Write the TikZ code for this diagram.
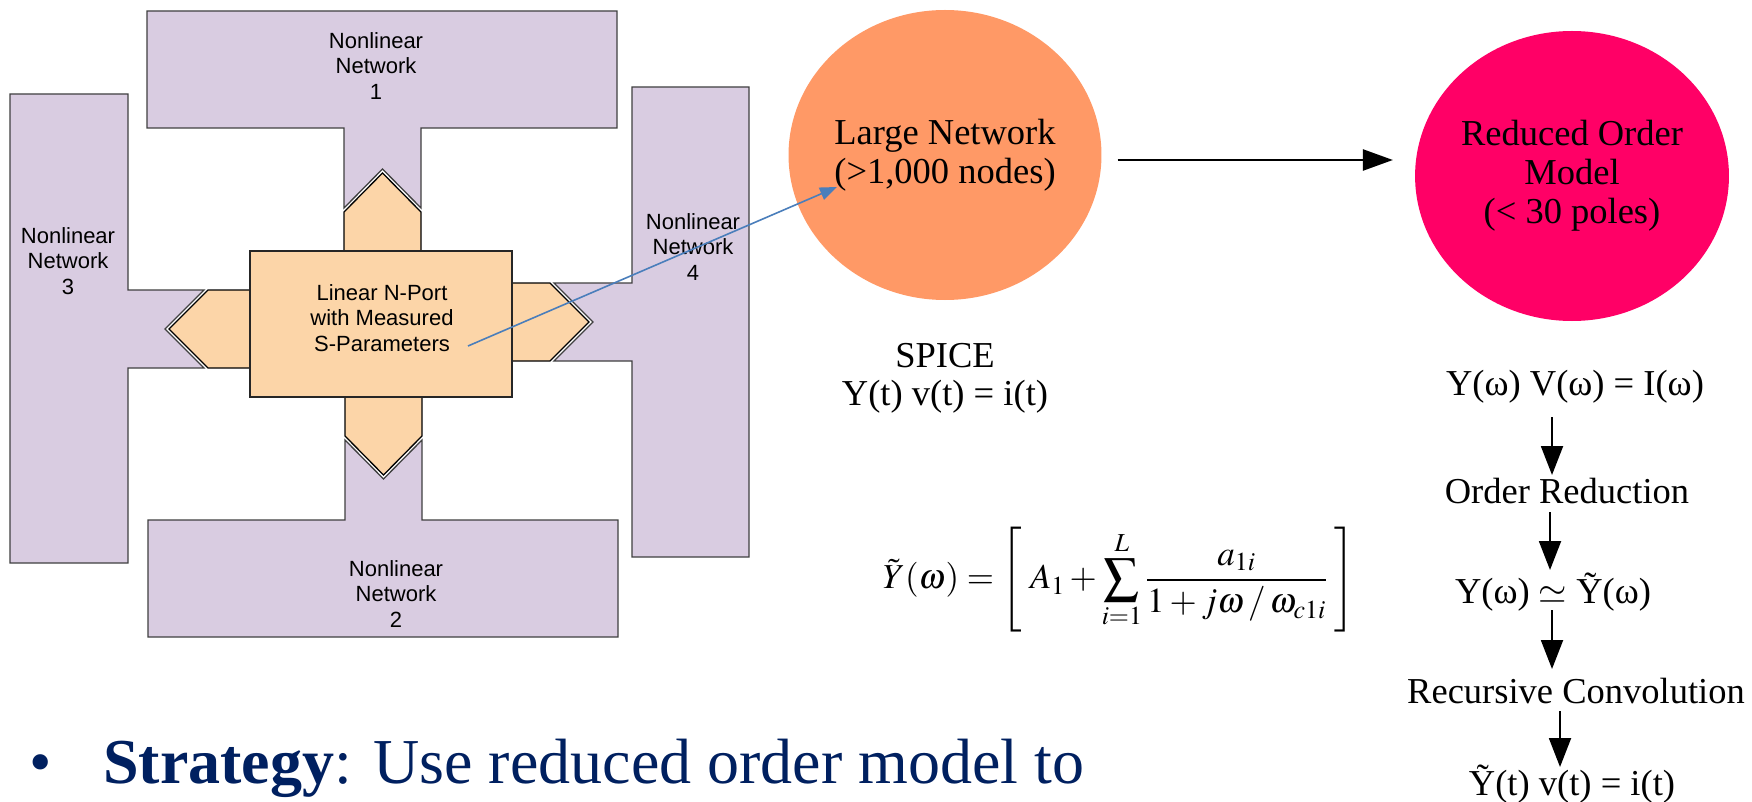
\documentclass[tikz,border=0pt]{standalone}
\usepackage{mathptmx}
\usepackage[no-math]{fontspec}
\setmainfont{Liberation Serif}
\newfontfamily\arialf{Liberation Sans}
\usetikzlibrary{shapes.geometric,arrows.meta,calc}
\definecolor{lav}{RGB}{217,204,225}
\definecolor{peach}{RGB}{252,213,168}
\definecolor{orangec}{RGB}{255,153,102}
\definecolor{pinkc}{RGB}{255,0,102}
\definecolor{navy}{RGB}{0,32,96}
\definecolor{bluel}{RGB}{74,126,187}
\definecolor{edgec}{RGB}{64,64,64}
\begin{document}
\begin{tikzpicture}[x=1pt,y=-1pt,
  net/.style={fill=lav,draw=edgec,line width=1.3pt,line join=miter},
  port/.style={fill=peach,draw=black,line width=1.3pt,line join=miter},
  nlabel/.style={font=\arialf\fontsize{22}{25.5}\selectfont,align=center,inner sep=0pt},
  serif/.style={font=\fontsize{36.5}{38}\selectfont,align=center,inner sep=0pt},
  bubble/.style={ellipse,inner sep=0pt,draw=none,minimum width=295pt,minimum height=290pt,font=\fontsize{36.5}{39}\selectfont,align=center},
  bigarr/.style={line width=2pt,-{Triangle[length=29pt,width=22pt]}},
  harr/.style={line width=2.5pt,-{Triangle[length=30pt,width=21pt]}},
  bluearr/.style={draw=bluel,line width=1.6pt,-{Triangle[length=17pt,width=13pt]},bluel}
]
\fill[white] (0,0) rectangle (1752,802);
\useasboundingbox (0,0) rectangle (1752,802);

% Nonlinear networks (purple)
\filldraw[net] (147,11) -- (617,11) -- (617,128) -- (421,128) -- (421,208) -- (382.5,169) -- (344,208) -- (344,128) -- (147,128) -- cycle;
\filldraw[net] (148,637) -- (618,637) -- (618,520) -- (422,520) -- (422,440) -- (383.5,479) -- (345,440) -- (345,520) -- (148,520) -- cycle;
\filldraw[net] (10,94) -- (128,94) -- (128,290) -- (204,290) -- (165,329) -- (204,368) -- (128,368) -- (128,563) -- (10,563) -- cycle;
\filldraw[net] (632,87) -- (749,87) -- (749,557) -- (632,557) -- (632,361) -- (554,361) -- (593,322) -- (554,283) -- (632,283) -- cycle;

% Ports (peach)
\filldraw[port] (344,251) -- (344,212) -- (382.5,173) -- (421,212) -- (421,251) -- cycle;
\filldraw[port] (345,397) -- (345,436) -- (383.5,475) -- (422,436) -- (422,397) -- cycle;
\filldraw[port] (250,290) -- (208,290) -- (169,329) -- (208,368) -- (250,368) -- cycle;
\filldraw[port] (511,283) -- (550,283) -- (589,322) -- (550,361) -- (511,361) -- cycle;

% Linear box
\node[draw=black!85,fill=peach,line width=1.3pt,minimum width=262pt,minimum height=146pt,inner sep=0pt] (box) at (381,324) {};
\node[nlabel] (boxt) at (382,318) {Linear N-Port\\with Measured\\S-Parameters};

% Network labels
\node[nlabel] (n1) at (376,66) {Nonlinear\\Network\\1};
\node[nlabel] (n2) at (396,594) {Nonlinear\\Network\\2};
\node[nlabel] (n3) at (68,261) {Nonlinear\\Network\\3};
\node[nlabel] (n4) at (693,247) {Nonlinear\\Network\\4};

% Bubbles
\node[bubble,fill=orangec] (large) at (945,155) {Large Network\\(>1,000 nodes)};
\node[bubble,fill=pinkc] (reduced) at (1572,176) {Reduced Order\\Model\\(< 30 poles)};

\coordinate (bstart) at (468,346);
\coordinate (bend) at (837,187);
\draw[bluearr] (bstart) -- (bend);

\draw[harr,shorten <=16pt,shorten >=22pt] ([yshift=-5pt]large.east) -- ([yshift=-5pt]large.east -| reduced.west);

% SPICE
\node[serif] (spice) at (945,378) {SPICE\\Y(t) v(t) = i(t)};

% Equation
\node[inner sep=0pt] (eqY) at (1119,580) {\fontsize{35}{42}\selectfont $\displaystyle \tilde{Y}(\omega)=\left[\;A_1+\sum_{i=1}^{L}\frac{a_{1i}}{1+j\omega\,/\,\omega_{c1i}}\;\right]$};

% Right column
\node[serif,anchor=base] (e1) at (1575,395) {Y(ω) V(ω) = I(ω)};
\node[serif,anchor=base] (ord) at (1567,503) {Order Reduction};
\node[serif,anchor=base] (e3) at (1553,603) {Y(ω) $\simeq$ \~Y(ω)};
\node[serif,anchor=base] (rc) at (1576,703) {Recursive Convolution};
\node[serif,anchor=base] (e4) at (1572,795) {\~Y(t) v(t) = i(t)};

\coordinate (ax1) at (1552,0);
\coordinate (ax2) at (1550,0);
\coordinate (ax3) at (1552,0);
\coordinate (ax4) at (1560,0);
\draw[bigarr] ([yshift=-22pt]e1.base -| ax1) -- ([yshift=28pt]ord.base -| ax1);
\draw[bigarr] ([yshift=-9pt]ord.base -| ax2) -- ([yshift=33pt]e3.base -| ax2);
\draw[bigarr] ([yshift=-7pt]e3.base -| ax3) -- ([yshift=34pt]rc.base -| ax3);
\draw[bigarr] ([yshift=-8pt]rc.base -| ax4) -- ([yshift=28pt]e4.base -| ax4);

% Strategy
\node[anchor=base,inner sep=0pt,text=navy,font=\fontsize{64}{70}\selectfont] (bul) at (41,783) {•};
\node[anchor=base west,inner sep=0pt,text=navy,font=\fontsize{64}{70}\selectfont] (strat) at (103,783) {\textbf{Strategy}: Use reduced order model to};
\end{tikzpicture}
\end{document}
